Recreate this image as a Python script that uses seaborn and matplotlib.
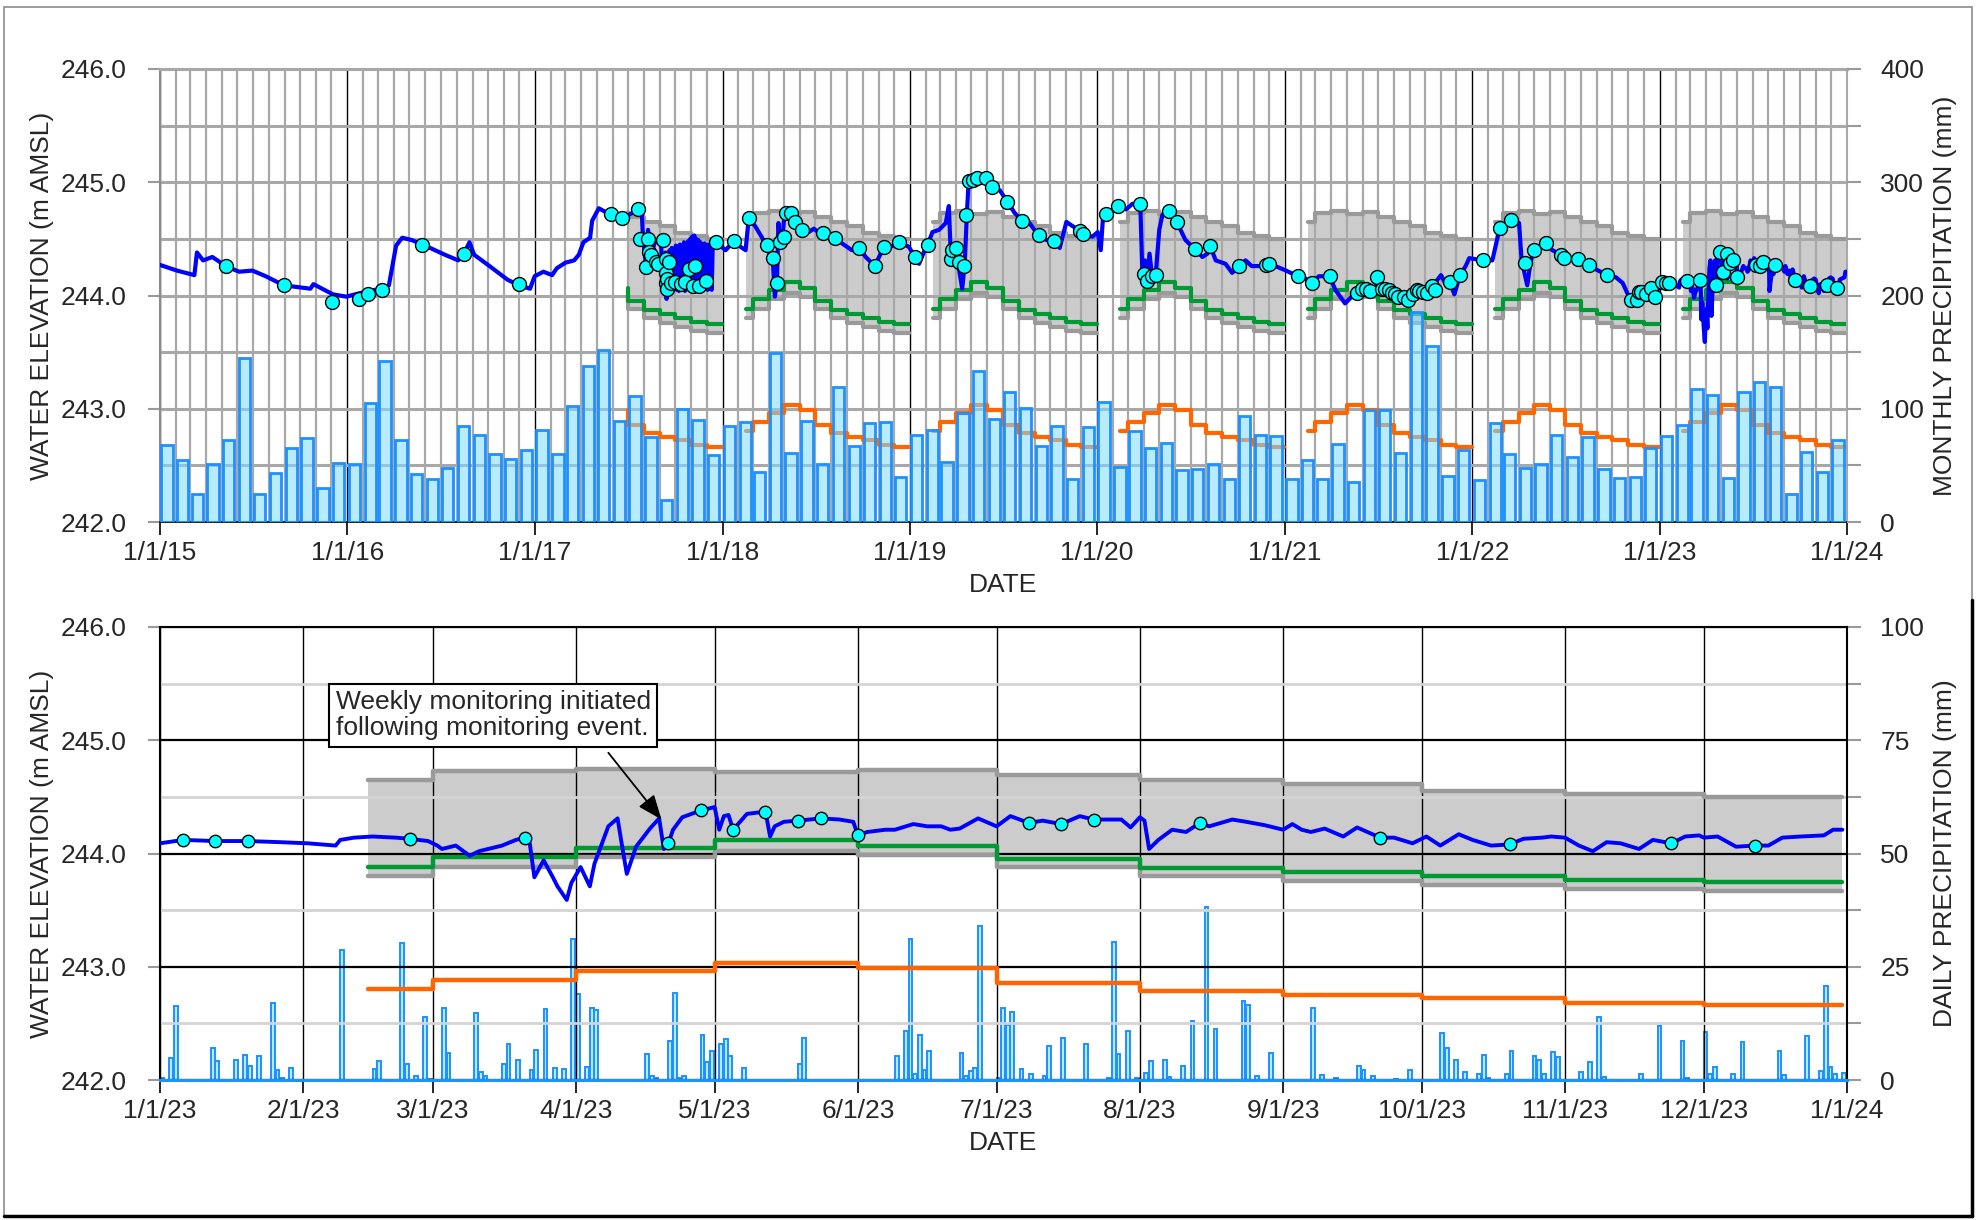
import numpy as np
import pandas as pd
import matplotlib
matplotlib.use("Agg")
import matplotlib.pyplot as plt
import matplotlib.dates as mdates
from matplotlib.ticker import MultipleLocator, FuncFormatter
from matplotlib.patches import Rectangle
from matplotlib.lines import Line2D
import seaborn as sns

sns.set_theme(style="white")
plt.rcParams["font.family"] = ["Liberation Sans", "DejaVu Sans"]

# ---------------------------------------------------------------- data
# Monthly precipitation (mm), Jan 2015 .. Dec 2023
precip_2015 = [68, 55, 25, 51, 72, 145, 25, 43, 65, 74, 30, 52]
precip_2016 = [51, 105, 142, 72, 42, 38, 48, 85, 77, 60, 56, 64]
precip_2017 = [81, 60, 102, 138, 152, 89, 111, 75, 19, 100, 90, 59]
precip_2018 = [85, 88, 44, 149, 61, 89, 51, 119, 67, 87, 88, 40]
precip_2019 = [77, 81, 53, 96, 133, 91, 115, 101, 67, 85, 38, 84]
precip_2020 = [106, 49, 80, 65, 70, 46, 47, 51, 38, 94, 77, 76]
precip_2021 = [38, 55, 38, 69, 35, 99, 99, 61, 185, 155, 41, 64]
precip_2022 = [37, 87, 60, 48, 51, 77, 57, 75, 47, 39, 40, 65]
precip_2023 = [76, 86, 117, 112, 39, 115, 124, 119, 25, 62, 44, 72]
monthly_precip = (precip_2015 + precip_2016 + precip_2017 + precip_2018 + precip_2019
                  + precip_2020 + precip_2021 + precip_2022 + precip_2023)

# Continuous water level record (m AMSL)
level_dates = [
    "2015-01-01", "2015-02-03", "2015-03-09", "2015-03-14", "2015-03-26", "2015-04-13",
    "2015-05-09", "2015-06-04", "2015-06-30", "2015-07-26", "2015-08-30", "2015-10-21",
    "2015-10-27", "2015-12-04", "2015-12-30",
    "2016-01-16", "2016-02-11", "2016-03-09", "2016-03-22", "2016-04-05", "2016-04-17",
    "2016-05-05", "2016-05-27", "2016-07-09", "2016-08-04", "2016-08-15", "2016-08-26",
    "2016-09-04", "2016-10-04", "2016-11-08", "2016-11-30", "2016-12-22", "2016-12-31",
    "2017-01-17", "2017-02-03", "2017-02-12", "2017-03-01", "2017-03-18", "2017-03-27",
    "2017-04-05", "2017-04-18", "2017-04-22", "2017-05-05", "2017-05-29", "2017-06-21",
    "2017-07-09", "2017-07-20", "2017-07-28", "2017-07-30", "2017-08-04", "2017-08-09",
    "2017-08-14", "2017-08-24", "2017-09-03",
    "2017-09-04", "2017-09-06", "2017-09-08", "2017-09-10", "2017-09-12", "2017-09-14",
    "2017-09-16", "2017-09-18", "2017-09-20", "2017-09-22", "2017-09-24", "2017-09-26",
    "2017-09-28", "2017-09-30", "2017-10-02", "2017-10-04", "2017-10-06", "2017-10-08",
    "2017-10-10", "2017-10-12", "2017-10-14", "2017-10-16", "2017-10-18", "2017-10-20",
    "2017-10-22", "2017-10-24", "2017-10-26", "2017-10-28", "2017-10-30", "2017-11-01",
    "2017-11-03", "2017-11-05", "2017-11-07", "2017-11-09", "2017-11-11", "2017-11-13",
    "2017-11-15", "2017-11-17", "2017-11-19", "2017-11-21", "2017-11-23", "2017-11-25",
    "2017-11-27", "2017-11-29", "2017-12-01", "2017-12-03", "2017-12-05", "2017-12-07",
    "2017-12-09", "2017-12-11", "2017-12-13",
    "2017-12-16", "2017-12-20",
    "2018-01-07", "2018-01-23", "2018-02-05", "2018-02-15", "2018-02-21", "2018-03-06",
    "2018-03-23", "2018-04-03", "2018-04-09", "2018-04-13", "2018-04-17", "2018-04-20",
    "2018-04-24", "2018-04-28", "2018-05-02", "2018-05-13", "2018-05-23", "2018-06-05",
    "2018-06-18", "2018-06-28", "2018-07-15", "2018-08-08", "2018-08-22", "2018-09-10",
    "2018-09-24", "2018-10-07", "2018-10-25", "2018-11-02", "2018-11-12", "2018-11-25",
    "2018-12-11", "2018-12-30",
    "2019-01-11", "2019-01-19", "2019-01-29", "2019-02-05", "2019-02-14", "2019-02-27",
    "2019-03-12", "2019-03-18", "2019-03-22", "2019-03-25", "2019-04-04", "2019-04-13",
    "2019-04-18", "2019-04-22", "2019-04-25", "2019-05-03", "2019-05-16", "2019-05-29",
    "2019-06-11", "2019-06-25", "2019-07-10", "2019-07-24", "2019-08-08", "2019-08-22",
    "2019-09-09", "2019-09-24", "2019-10-09", "2019-10-20", "2019-11-02", "2019-11-15",
    "2019-11-29", "2019-12-04", "2019-12-23",
    "2020-01-02", "2020-01-08", "2020-01-13", "2020-01-19", "2020-02-10", "2020-02-26",
    "2020-03-10", "2020-03-25", "2020-03-29", "2020-04-03", "2020-04-07", "2020-04-12",
    "2020-04-17", "2020-04-24", "2020-05-01", "2020-05-07", "2020-05-20", "2020-06-04",
    "2020-06-21", "2020-07-09", "2020-07-24", "2020-08-03", "2020-08-08", "2020-08-19",
    "2020-09-07", "2020-09-20", "2020-10-04", "2020-10-16", "2020-10-28", "2020-11-17",
    "2020-11-26", "2020-12-13",
    "2021-01-03", "2021-01-26", "2021-02-10", "2021-02-22", "2021-03-08", "2021-03-29",
    "2021-04-09", "2021-04-28", "2021-05-11", "2021-05-22", "2021-06-03", "2021-06-16",
    "2021-06-29", "2021-07-15", "2021-07-28", "2021-08-10", "2021-08-29", "2021-09-15",
    "2021-09-19", "2021-10-05", "2021-10-15", "2021-11-01", "2021-11-10", "2021-11-18",
    "2021-11-27", "2021-12-08", "2021-12-19", "2021-12-26",
    "2022-01-21", "2022-02-09", "2022-02-19", "2022-02-24", "2022-03-18", "2022-04-02",
    "2022-04-07", "2022-04-18", "2022-04-25", "2022-05-02", "2022-05-24", "2022-06-06",
    "2022-06-22", "2022-07-09", "2022-07-26", "2022-08-16", "2022-08-30", "2022-09-21",
    "2022-10-08", "2022-10-21", "2022-10-30", "2022-11-07", "2022-11-19", "2022-12-05",
    "2022-12-15", "2022-12-22",
    "2023-01-01", "2023-01-06", "2023-01-13", "2023-01-20", "2023-01-27", "2023-02-02",
    "2023-02-08", "2023-02-09", "2023-02-12", "2023-02-16", "2023-02-21", "2023-02-24",
    "2023-02-28", "2023-03-02", "2023-03-03", "2023-03-06", "2023-03-09", "2023-03-11",
    "2023-03-16", "2023-03-19", "2023-03-21", "2023-03-22", "2023-03-23", "2023-03-25",
    "2023-03-27", "2023-03-28", "2023-03-30", "2023-03-31", "2023-04-02", "2023-04-04",
    "2023-04-05", "2023-04-08", "2023-04-10", "2023-04-11", "2023-04-12", "2023-04-14",
    "2023-04-17", "2023-04-19", "2023-04-20", "2023-04-21", "2023-04-22", "2023-04-24",
    "2023-04-28", "2023-05-01", "2023-05-02", "2023-05-03", "2023-05-04", "2023-05-05",
    "2023-05-08", "2023-05-12", "2023-05-13", "2023-05-14", "2023-05-16", "2023-05-19",
    "2023-05-24", "2023-05-28", "2023-05-31", "2023-06-01", "2023-06-03", "2023-06-07",
    "2023-06-09", "2023-06-13", "2023-06-16", "2023-06-19", "2023-06-21", "2023-06-23",
    "2023-06-27", "2023-07-01", "2023-07-04", "2023-07-08", "2023-07-11", "2023-07-15",
    "2023-07-19", "2023-07-22", "2023-07-28", "2023-07-30", "2023-08-01", "2023-08-02",
    "2023-08-03", "2023-08-05", "2023-08-08", "2023-08-11", "2023-08-14", "2023-08-16",
    "2023-08-21", "2023-08-24", "2023-08-28", "2023-09-01", "2023-09-03", "2023-09-05",
    "2023-09-07", "2023-09-10", "2023-09-14", "2023-09-17", "2023-09-22", "2023-09-25",
    "2023-09-29", "2023-10-02", "2023-10-05", "2023-10-09", "2023-10-12", "2023-10-16",
    "2023-10-20", "2023-10-23", "2023-10-27", "2023-10-29", "2023-11-01", "2023-11-04",
    "2023-11-07", "2023-11-10", "2023-11-13", "2023-11-17", "2023-11-20", "2023-11-24",
    "2023-11-27", "2023-11-30", "2023-12-01", "2023-12-04", "2023-12-08", "2023-12-12",
    "2023-12-15", "2023-12-18", "2023-12-22", "2023-12-27", "2023-12-29", "2023-12-31",
]
level_elev = [
    244.27, 244.22, 244.18, 244.38, 244.31, 244.34,
    244.26, 244.21, 244.22, 244.17, 244.09, 244.06,
    244.10, 244.01, 243.99,
    244.01, 244.04, 244.06, 244.09, 244.44, 244.51,
    244.49, 244.45, 244.36, 244.31, 244.37, 244.47,
    244.36, 244.26, 244.14, 244.09, 244.06, 244.17,
    244.21, 244.18, 244.24, 244.29, 244.31, 244.36,
    244.47, 244.51, 244.66, 244.77, 244.71, 244.68,
    244.73, 244.76, 244.71, 244.51, 244.31, 244.58,
    244.36, 244.49, 244.46,
    244.40, 244.05, 244.35, 244.02, 244.38, 243.97,
    244.36, 244.03, 244.40, 244.05, 244.42, 244.04,
    244.41, 244.06, 244.44, 244.05, 244.43, 244.04,
    244.45, 244.06, 244.44, 244.05, 244.47, 244.04,
    244.45, 244.06, 244.48, 244.05, 244.50, 244.06,
    244.52, 244.05, 244.53, 244.07, 244.50, 244.06,
    244.49, 244.05, 244.47, 244.06, 244.45, 244.05,
    244.46, 244.06, 244.44, 244.05, 244.45, 244.06,
    244.44, 244.05, 244.46,
    244.47, 244.47,
    244.40, 244.48, 244.43, 244.40, 244.68, 244.61,
    244.48, 244.37, 244.31, 243.99, 244.11, 244.64,
    244.42, 244.52, 244.73, 244.74, 244.65, 244.58,
    244.56, 244.59, 244.53, 244.51, 244.46, 244.40,
    244.42, 244.34, 244.26, 244.34, 244.43, 244.43,
    244.47, 244.43,
    244.34, 244.28, 244.39, 244.45, 244.56, 244.58,
    244.64, 244.79, 244.34, 244.40, 244.31, 244.06,
    244.28, 244.71, 244.96, 245.01, 244.99, 245.03,
    244.96, 244.93, 244.83, 244.73, 244.66, 244.64,
    244.53, 244.49, 244.48, 244.42, 244.65, 244.61,
    244.57, 244.54, 244.52,
    244.56, 244.40, 244.73, 244.72, 244.79, 244.76,
    244.81, 244.81, 244.20, 244.31, 244.13, 244.37,
    244.17, 244.18, 244.58, 244.71, 244.75, 244.65,
    244.49, 244.41, 244.34, 244.37, 244.44, 244.31,
    244.28, 244.20, 244.26, 244.31, 244.26, 244.26,
    244.28, 244.26,
    244.22, 244.17, 244.15, 244.11, 244.17, 244.17,
    244.05, 243.93, 243.99, 244.02, 244.06, 244.04,
    244.09, 244.06, 244.02, 243.99, 243.96, 244.05,
    244.06, 244.02, 244.08, 244.18, 244.10, 244.12,
    244.01, 244.18, 244.26, 244.33,
    244.31, 244.31, 244.51, 244.60, 244.67, 244.64,
    244.31, 244.09, 244.31, 244.40, 244.46, 244.40,
    244.36, 244.32, 244.32, 244.27, 244.23, 244.18,
    244.16, 244.11, 244.02, 243.96, 244.03, 244.01,
    244.07, 243.99,
    244.09, 244.12, 244.11, 244.11, 244.10, 244.09,
    244.07, 244.12, 244.14, 244.15, 244.14, 244.13,
    244.11, 244.07, 244.04, 244.07, 243.98, 244.02,
    244.07, 244.12, 244.14, 244.09, 243.79, 243.94,
    243.79, 243.71, 243.59, 243.74, 243.88, 243.71,
    243.91, 244.24, 244.31, 244.06, 243.82, 244.06,
    244.22, 244.31, 244.04, 244.09, 244.21, 244.32,
    244.38, 244.41, 244.21, 244.33, 244.34, 244.21,
    244.35, 244.37, 244.15, 244.24, 244.28, 244.29,
    244.31, 244.30, 244.28, 244.16, 244.19, 244.21,
    244.21, 244.26, 244.24, 244.24, 244.21, 244.22,
    244.31, 244.24, 244.33, 244.27, 244.29, 244.26,
    244.33, 244.30, 244.30, 244.23, 244.32, 244.29,
    244.04, 244.12, 244.21, 244.19, 244.27, 244.24,
    244.30, 244.28, 244.25, 244.21, 244.26, 244.21,
    244.19, 244.22, 244.15, 244.23, 244.14, 244.14,
    244.09, 244.15, 244.07, 244.17, 244.12, 244.07,
    244.08, 244.13, 244.14, 244.15, 244.14, 244.07,
    244.02, 244.10, 244.09, 244.04, 244.12, 244.09,
    244.15, 244.16, 244.14, 244.15, 244.06, 244.07,
    244.07, 244.14, 244.15, 244.16, 244.21, 244.21,
]

# Manual water level measurements (m AMSL)
manual_dates = [
    "2015-05-09", "2015-08-30", "2015-12-03", "2016-01-24", "2016-02-10", "2016-03-09",
    "2016-05-25", "2016-08-16", "2016-11-30",
    "2017-05-29", "2017-06-20", "2017-07-20", "2017-07-24", "2017-08-04", "2017-08-08",
    "2017-08-11", "2017-08-15", "2017-08-25", "2017-08-28", "2017-09-08", "2017-09-13",
    "2017-09-13", "2017-09-13", "2017-09-15", "2017-09-15", "2017-09-19", "2017-09-22",
    "2017-10-01", "2017-10-12", "2017-10-20", "2017-10-27", "2017-11-04", "2017-11-09",
    "2017-11-17", "2017-11-30", "2017-12-20",
    "2018-01-23", "2018-02-22", "2018-03-28", "2018-04-09", "2018-04-18", "2018-04-24",
    "2018-05-01", "2018-05-05", "2018-05-15", "2018-05-23", "2018-06-05", "2018-07-15",
    "2018-08-08", "2018-09-24", "2018-10-25", "2018-11-12", "2018-12-11",
    "2019-01-11", "2019-02-05", "2019-03-23", "2019-03-24", "2019-04-01", "2019-04-07",
    "2019-04-16", "2019-04-21", "2019-04-26", "2019-05-04", "2019-05-12", "2019-05-29",
    "2019-06-11", "2019-07-09", "2019-08-08", "2019-09-09", "2019-10-09", "2019-11-29",
    "2019-12-04",
    "2020-01-19", "2020-02-10", "2020-03-25", "2020-04-01", "2020-04-07", "2020-04-16",
    "2020-04-24", "2020-05-20", "2020-06-04", "2020-07-09", "2020-08-08", "2020-10-04",
    "2020-11-24", "2020-11-30",
    "2021-01-26", "2021-02-22", "2021-03-29", "2021-05-22", "2021-05-31", "2021-06-08",
    "2021-06-16", "2021-06-29", "2021-07-09", "2021-07-15", "2021-07-22", "2021-07-28",
    "2021-08-04", "2021-08-10", "2021-08-20", "2021-08-29", "2021-09-08", "2021-09-15",
    "2021-09-19", "2021-09-26", "2021-10-05", "2021-10-15", "2021-10-21", "2021-11-18",
    "2021-12-08",
    "2022-01-21", "2022-02-24", "2022-03-18", "2022-04-13", "2022-05-02", "2022-05-24",
    "2022-06-22", "2022-06-28", "2022-07-26", "2022-08-16", "2022-09-21", "2022-11-07",
    "2022-11-17", "2022-11-22", "2022-11-25", "2022-12-05", "2022-12-15", "2022-12-22",
    "2023-01-06", "2023-01-13", "2023-01-20", "2023-02-24", "2023-03-21", "2023-04-21",
    "2023-04-28", "2023-05-05", "2023-05-12", "2023-05-19", "2023-05-24", "2023-06-01",
    "2023-07-08", "2023-07-15", "2023-07-22", "2023-08-14", "2023-09-22", "2023-10-20",
    "2023-11-24", "2023-12-12",
]
manual_elev = [
    244.26, 244.09, 243.94, 243.97, 244.01, 244.05,
    244.45, 244.37, 244.10,
    244.72, 244.68, 244.76, 244.50, 244.25, 244.50,
    244.38, 244.36, 244.30, 244.28, 244.49, 244.32,
    244.20, 244.11, 244.15, 244.06, 244.30, 244.11,
    244.12, 244.10, 244.12, 244.23, 244.08, 244.26,
    244.08, 244.13, 244.47,
    244.48, 244.68, 244.45, 244.33, 244.11, 244.47,
    244.52, 244.73, 244.73, 244.65, 244.58, 244.55,
    244.51, 244.42, 244.26, 244.43, 244.47,
    244.34, 244.45, 244.32, 244.40, 244.42, 244.30,
    244.26, 244.71, 245.01, 245.02, 245.04, 245.04,
    244.96, 244.83, 244.66, 244.53, 244.48, 244.57,
    244.54,
    244.72, 244.79, 244.81, 244.19, 244.13, 244.17,
    244.18, 244.75, 244.65, 244.41, 244.44, 244.26,
    244.27, 244.28,
    244.17, 244.11, 244.17, 244.02, 244.06, 244.06,
    244.04, 244.16, 244.06, 244.06, 244.05, 244.02,
    244.01, 243.99, 243.99, 243.96, 244.01, 244.05,
    244.04, 244.03, 244.02, 244.08, 244.05, 244.12,
    244.18,
    244.31, 244.60, 244.67, 244.29, 244.40, 244.46,
    244.36, 244.33, 244.32, 244.27, 244.18, 243.96,
    243.96, 244.03, 244.03, 244.01, 244.07, 243.99,
    244.12, 244.11, 244.11, 244.13, 244.14, 244.09,
    244.38, 244.21, 244.37, 244.29, 244.31, 244.16,
    244.27, 244.26, 244.30, 244.27, 244.14, 244.08,
    244.09, 244.07,
]

# Monthly assessment levels (m AMSL), Feb..Dec
step_months = [2, 3, 4, 5, 6, 7, 8, 9, 10, 11, 12]
upper_range = [244.65, 244.73, 244.75, 244.72, 244.735, 244.69, 244.645, 244.61, 244.555, 244.525, 244.50]
lower_range = [243.80, 243.885, 243.965, 244.02, 243.99, 243.885, 243.80, 243.76, 243.725, 243.69, 243.665]
trigger_level = [243.885, 243.965, 244.045, 244.115, 244.065, 243.955, 243.875, 243.835, 243.80, 243.765, 243.745]
action_level = [242.80, 242.88, 242.96, 243.035, 242.985, 242.86, 242.79, 242.75, 242.72, 242.68, 242.66]
assessment_years = [2017, 2018, 2019, 2020, 2021, 2022, 2023]

# Daily precipitation 2023: day of year (0 = 1 Jan) and depth (mm)
rain_doy = [
    0, 2, 3, 11, 12, 16, 18, 19, 21, 24, 25, 26, 28,
    39, 46, 47, 52, 53, 55, 57, 58,
    61, 62, 68, 69, 70, 74, 75, 77, 80, 81, 83, 85, 87, 89,
    90, 92, 93, 94, 105, 106, 107, 110, 111, 112, 113, 117, 118, 119,
    121, 122, 123, 126, 138, 139,
    159, 161, 162, 163, 164, 165, 166, 173, 174, 175, 176, 177,
    181, 182, 183, 184, 186, 188, 191, 192, 195, 200, 205, 206, 207, 209, 211,
    213, 214, 217, 218, 221, 223, 226, 228, 234, 235, 237, 240,
    249, 251, 254, 259, 260, 262, 267, 270,
    277, 278, 280, 282, 285, 286, 287, 291, 292, 297, 298, 299, 301, 302,
    307, 309, 311, 312, 320, 324, 329, 330,
    334, 335, 336, 340, 342, 350, 351, 356, 359, 360, 361, 362, 364,
]
rain_mm = [
    0.4, 4.8, 16.4, 7.0, 4.2, 4.4, 5.5, 3.1, 5.2, 17.1, 2.2, 0.5, 2.7,
    28.7, 2.4, 4.2, 30.2, 3.6, 0.9, 14.0, 0.3,
    15.9, 5.9, 14.9, 1.7, 0.9, 3.5, 7.9, 4.4, 2.2, 6.7, 15.7, 2.6, 2.4, 31.1,
    19.0, 2.9, 15.9, 15.5, 5.7, 0.9, 0.4, 8.7, 19.2, 0.5, 0.9, 9.9, 3.9, 6.5,
    7.9, 9.0, 5.2, 2.6, 3.5, 9.2,
    5.2, 10.9, 31.2, 1.3, 9.9, 2.2, 6.4, 5.9, 0.9, 2.0, 2.6, 34.1,
    0.4, 15.8, 12.2, 15.1, 2.4, 1.3, 0.9, 7.6, 9.3, 8.0, 0.4, 30.5, 5.7, 10.9, 0.4,
    1.6, 4.2, 4.4, 0.6, 3.1, 13.1, 38.2, 11.3, 17.5, 16.6, 0.9, 5.9,
    15.9, 1.1, 0.4, 3.1, 2.2, 0.8, 0.3, 2.2,
    10.3, 7.0, 4.4, 1.7, 1.3, 5.5, 0.5, 1.3, 6.4, 5.2, 4.4, 1.3, 6.1, 5.1,
    1.7, 3.9, 14.0, 0.6, 1.3, 12.0, 8.6, 0.5,
    10.5, 1.4, 2.8, 1.3, 8.3, 6.5, 1.1, 9.8, 2.0, 20.7, 2.9, 1.3, 1.6,
]

note_text = "Weekly monitoring initiated\nfollowing monitoring event."

# ---------------------------------------------------------------- styling
BLUE = "#0000FF"
CYAN = "#00FFFF"
GREEN = "#009933"
ORANGE = "#FF6600"
BAND = "#CCCCCC"
BAND_EDGE = "#9A9A9A"
BAR_FACE = (0.50, 0.86, 1.0, 0.55)
BAR_EDGE = "#1E90FF"
FS = 19

level = pd.DataFrame({"date": pd.to_datetime(level_dates), "elev": level_elev})
manual = pd.DataFrame({"date": pd.to_datetime(manual_dates), "elev": manual_elev})


def assessment_steps(year):
    """Step series for one year's assessment window."""
    if year == 2017:
        months = [6, 7, 8, 9, 10, 11, 12]
        dates = [pd.Timestamp(year, 6, 30)] + [pd.Timestamp(year, m, 1) for m in months[1:]]
    else:
        months = step_months
        dates = [pd.Timestamp(year, 2, 15)] + [pd.Timestamp(year, m, 1) for m in months[1:]]
    dates.append(pd.Timestamp(year, 12, 31))
    months = months + [12]
    idx = [step_months.index(m) for m in months]
    return pd.DataFrame({
        "date": dates,
        "upper": [upper_range[i] for i in idx],
        "lower": [lower_range[i] for i in idx],
        "trigger": [trigger_level[i] for i in idx],
        "action": [action_level[i] for i in idx],
    })


def draw_assessment(ax, years, lw):
    for yr in years:
        s = assessment_steps(yr)
        ax.fill_between(s["date"], s["lower"], s["upper"], step="post",
                        color=BAND, linewidth=0, zorder=1)
        ax.plot(s["date"], s["upper"], drawstyle="steps-post", color=BAND_EDGE, lw=lw, zorder=2)
        ax.plot(s["date"], s["lower"], drawstyle="steps-post", color=BAND_EDGE, lw=lw, zorder=2)
        ax.plot(s["date"], s["trigger"], drawstyle="steps-post", color=GREEN, lw=lw, zorder=2.2)
        ax.plot(s["date"], s["action"], drawstyle="steps-post", color=ORANGE, lw=lw, zorder=2.2)


def mdy(x, pos=None):
    d = mdates.num2date(x)
    return f"{d.month}/{d.day}/{d:%y}"


W, H = 1981, 1220
fig = plt.figure(figsize=(W / 100, H / 100), dpi=100)
fig.patch.set_facecolor("white")

ax_top = fig.add_axes([160 / W, 1 - 522 / H, 1687 / W, 453 / H])
ax_bot = fig.add_axes([160 / W, 1 - 1080 / H, 1687 / W, 453 / H])

# ---------------------------------------------------------------- top panel
draw_assessment(ax_top, assessment_years, 3.0)
sns.lineplot(data=level, x="date", y="elev", ax=ax_top, color=BLUE, lw=3.0,
             sort=False, estimator=None, zorder=4, legend=False)
sns.scatterplot(data=manual, x="date", y="elev", ax=ax_top, color=CYAN, s=100,
                edgecolor="black", linewidth=1.0, zorder=5, legend=False)

ax_top.set_xlim(pd.Timestamp("2015-01-01"), pd.Timestamp("2024-01-01"))
ax_top.set_ylim(242, 246)
ax_top.xaxis.set_major_locator(mdates.YearLocator())
ax_top.xaxis.set_minor_locator(mdates.MonthLocator())
ax_top.xaxis.set_major_formatter(FuncFormatter(mdy))
ax_top.yaxis.set_major_locator(MultipleLocator(1))
ax_top.yaxis.set_minor_locator(MultipleLocator(0.5))
ax_top.yaxis.set_major_formatter(FuncFormatter(lambda v, p: f"{v:.1f}"))
ax_top.set_axisbelow("line")
ax_top.grid(which="major", axis="x", color="black", lw=1.0)
ax_top.grid(which="minor", axis="x", color="#A8A8A8", lw=1.6)
ax_top.grid(which="both", axis="y", color="#A8A8A8", lw=2.2)
ax_top.tick_params(axis="x", which="major", bottom=True, length=9, width=1.2, color="black",
                   pad=5, labelsize=FS)
ax_top.tick_params(axis="x", which="minor", bottom=False, length=0)
ax_top.tick_params(axis="y", which="major", left=True, length=9, width=1.5, color="#9A9A9A",
                   pad=15, labelsize=FS)
ax_top.tick_params(axis="y", which="minor", left=False, length=0)
ax_top.set_xlabel("DATE", fontsize=FS)
ax_top.xaxis.set_label_coords(0.5, -0.1126)
ax_top.set_ylabel("WATER ELEVATION (m AMSL)", fontsize=FS)
ax_top.yaxis.set_label_coords(-0.0631, 0.5)
for side, col, w in [("left", "#8C8C8C", 1.5), ("top", "#A8A8A8", 2.2),
                     ("right", "#A8A8A8", 1.5), ("bottom", "black", 1.2)]:
    ax_top.spines[side].set_color(col)
    ax_top.spines[side].set_linewidth(w)

ax_top_p = ax_top.twinx()
month_starts = pd.date_range("2015-01-01", periods=len(monthly_precip), freq="MS")
ax_top_p.bar(mdates.date2num(month_starts) + 2.5, monthly_precip, width=22, align="edge",
             facecolor=BAR_FACE, edgecolor=BAR_EDGE, linewidth=2.0, zorder=2)
ax_top_p.set_ylim(0, 400)
ax_top_p.yaxis.set_major_locator(MultipleLocator(100))
ax_top_p.yaxis.set_minor_locator(MultipleLocator(50))
ax_top_p.tick_params(axis="y", which="major", right=True, length=10, width=1.5,
                     color="#9A9A9A", pad=14, labelsize=FS)
ax_top_p.tick_params(axis="y", which="minor", right=True, length=10, width=1.5, color="#9A9A9A")
ax_top_p.set_ylabel("MONTHLY PRECIPITATION (mm)", fontsize=FS)
ax_top_p.yaxis.set_label_coords(1.051, 0.5)
ax_top_p.grid(False)
for sp in ax_top_p.spines.values():
    sp.set_visible(False)

# ---------------------------------------------------------------- bottom panel
y0, y1 = pd.Timestamp("2023-01-01"), pd.Timestamp("2024-01-01")
draw_assessment(ax_bot, [2023], 3.2)
lvl23 = level[(level["date"] >= y0) & (level["date"] <= y1)]
man23 = manual[(manual["date"] >= y0) & (manual["date"] <= y1)]
sns.lineplot(data=lvl23, x="date", y="elev", ax=ax_bot, color=BLUE, lw=2.8,
             sort=False, estimator=None, zorder=4, legend=False)
sns.scatterplot(data=man23, x="date", y="elev", ax=ax_bot, color=CYAN, s=80,
                edgecolor="black", linewidth=1.0, zorder=5, legend=False)

tail = (pd.Timestamp("2023-04-08"), 244.89)
tip = (pd.Timestamp("2023-04-19 12:00"), 244.30)
ax_bot.annotate("", xy=tip, xytext=tail,
                arrowprops=dict(arrowstyle="-|>,head_length=1.0,head_width=0.4",
                                mutation_scale=15, color="black", lw=1.3,
                                shrinkA=0, shrinkB=0), zorder=6)
ax_bot.text(pd.Timestamp("2023-02-08"), 245.22, note_text, fontsize=FS, ha="left",
            va="center", linespacing=1.12, zorder=7,
            bbox=dict(boxstyle="square,pad=0.25", fc="white", ec="black", lw=1.5))

ax_bot.set_xlim(y0, y1)
ax_bot.set_ylim(242, 246)
ax_bot.xaxis.set_major_locator(mdates.MonthLocator())
ax_bot.xaxis.set_major_formatter(FuncFormatter(mdy))
ax_bot.yaxis.set_major_locator(MultipleLocator(1))
ax_bot.yaxis.set_minor_locator(MultipleLocator(0.5))
ax_bot.yaxis.set_major_formatter(FuncFormatter(lambda v, p: f"{v:.1f}"))
ax_bot.set_axisbelow("line")
ax_bot.grid(which="major", axis="x", color="black", lw=1.0)
ax_bot.grid(which="major", axis="y", color="black", lw=1.6)
ax_bot.grid(which="minor", axis="y", color="#D4D4D4", lw=2.0)
ax_bot.tick_params(axis="x", which="major", bottom=True, length=9, width=1.2, color="black",
                   pad=5, labelsize=FS)
ax_bot.tick_params(axis="y", which="major", left=True, length=9, width=1.5, color="#9A9A9A",
                   pad=15, labelsize=FS)
ax_bot.tick_params(axis="y", which="minor", left=False, length=0)
ax_bot.set_xlabel("DATE", fontsize=FS)
ax_bot.xaxis.set_label_coords(0.5, -0.1126)
ax_bot.set_ylabel("WATER ELEVATION (m AMSL)", fontsize=FS)
ax_bot.yaxis.set_label_coords(-0.0631, 0.5)
for sp in ax_bot.spines.values():
    sp.set_color("black")
    sp.set_linewidth(1.5)
# zero-precipitation days form a continuous blue baseline
ax_bot.spines["bottom"].set_color(BAR_EDGE)
ax_bot.spines["bottom"].set_linewidth(2.2)

ax_bot_p = ax_bot.twinx()
ax_bot_p.set_zorder(ax_bot.get_zorder() - 1)
ax_bot.patch.set_visible(False)
daily = np.zeros(365)
daily[rain_doy] = rain_mm
days = pd.date_range("2023-01-01", periods=365, freq="D")
ax_bot_p.bar(mdates.date2num(days), daily, width=0.8, align="edge",
             facecolor="#B4ECFF", edgecolor=BAR_EDGE, linewidth=1.4, zorder=2)
ax_bot_p.set_ylim(0, 100)
ax_bot_p.yaxis.set_major_locator(MultipleLocator(25))
ax_bot_p.yaxis.set_minor_locator(MultipleLocator(12.5))
ax_bot_p.tick_params(axis="y", which="major", right=True, length=10, width=1.5,
                     color="#9A9A9A", pad=14, labelsize=FS)
ax_bot_p.tick_params(axis="y", which="minor", right=True, length=10, width=1.5, color="#9A9A9A")
ax_bot_p.set_ylabel("DAILY PRECIPITATION (mm)", fontsize=FS)
ax_bot_p.yaxis.set_label_coords(1.051, 0.5)
ax_bot_p.grid(False)
for sp in ax_bot_p.spines.values():
    sp.set_visible(False)

# ---------------------------------------------------------------- frame
fig.patches.append(Rectangle((4 / W, 1 - 1216 / H), 1968 / W, 1209 / H, transform=fig.transFigure,
                             fill=False, ec="#8C8C8C", lw=1.2))
fig.lines.append(Line2D([4 / W, 1972 / W], [1 - 1216 / H, 1 - 1216 / H],
                        transform=fig.transFigure, color="black", lw=2.5))
fig.lines.append(Line2D([1972 / W, 1972 / W], [1 - 1216 / H, 1 - 600 / H],
                        transform=fig.transFigure, color="black", lw=2.5))

fig.savefig("out.png", dpi=100, facecolor="white")
